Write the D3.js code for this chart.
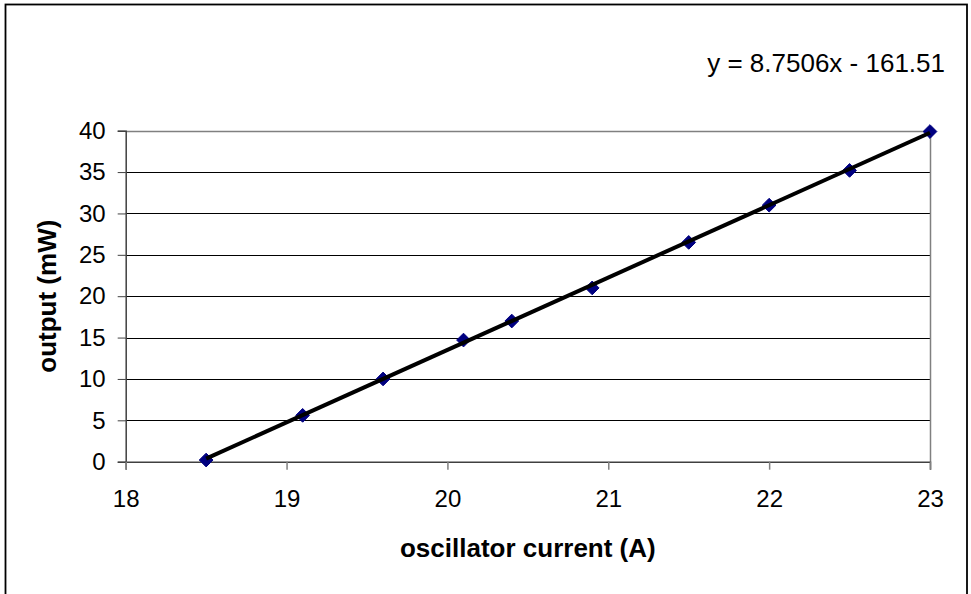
<!DOCTYPE html>
<html>
<head>
<meta charset="utf-8">
<script src="https://cdn.jsdelivr.net/npm/d3@7"></script>
<style>
  html, body { margin: 0; padding: 0; background: #fff; }
  svg { display: block; }
  text { font-family: "Liberation Sans", Arial, sans-serif; fill: #000; }
</style>
</head>
<body>
<svg id="chart" width="971" height="594"></svg>
<script>
// Data
const currentA = [18.5, 19.1, 19.6, 20.1, 20.4, 20.9, 21.5, 22.0, 22.5, 23.0];
const outputMW = [0.2, 5.6, 10.0, 14.7, 17.0, 21.0, 26.5, 31.0, 35.2, 39.9];
const xTicks = [18, 19, 20, 21, 22, 23];
const yTicks = [0, 5, 10, 15, 20, 25, 30, 35, 40];
const trendSlope = 8.7506;
const trendIntercept = -161.51;
const equationLabel = "y = 8.7506x - 161.51";
const xTitle = "oscillator current (A)";
const yTitle = "output (mW)";

const svg = d3.select("#chart");
const plot = { left: 125.7, right: 930, top: 130.7, bottom: 461.7 };

const x = d3.scaleLinear().domain([18, 23]).range([plot.left, plot.right]);
const y = d3.scaleLinear().domain([0, 40]).range([plot.bottom, plot.top]);

// Outer chart border
svg.append("rect")
  .attr("x", 5.5).attr("y", 4.5)
  .attr("width", 961.5).attr("height", 620)
  .attr("fill", "none").attr("stroke", "#000").attr("stroke-width", 1.8);

// Gridlines (internal)
svg.append("g").selectAll("line")
  .data(yTicks.filter(d => d > 0 && d < 40))
  .join("line")
  .attr("x1", plot.left).attr("x2", plot.right)
  .attr("y1", d => Math.round(y(d)) + 0.5).attr("y2", d => Math.round(y(d)) + 0.5)
  .attr("stroke", "#000").attr("stroke-width", 1);

// Plot border top/right (gray)
svg.append("path")
  .attr("d", `M${plot.left},${Math.round(plot.top)+0.5} H${Math.round(plot.right)+0.5} V${plot.bottom}`)
  .attr("fill", "none").attr("stroke", "#808080").attr("stroke-width", 1.5);

// Y axis
const yAxis = d3.axisLeft(y).tickValues(yTicks).tickSize(8).tickPadding(12).tickFormat(d3.format("d"));
const gy = svg.append("g").attr("transform", `translate(${plot.left},0)`).call(yAxis);
gy.select(".domain").attr("stroke", "#404040").attr("stroke-width", 1.5);
gy.selectAll(".tick line").attr("stroke", "#404040").attr("stroke-width", 1);
gy.selectAll(".tick text").attr("font-size", 24).attr("font-family", "Liberation Sans, Arial, sans-serif").attr("fill", "#000");

// X axis
const xAxis = d3.axisBottom(x).tickValues(xTicks).tickSize(8).tickPadding(20).tickFormat(d3.format("d"));
const gx = svg.append("g").attr("transform", `translate(0,${plot.bottom})`).call(xAxis);
gx.select(".domain").attr("stroke", "#404040").attr("stroke-width", 1.5);
gx.selectAll(".tick line").attr("stroke", "#808080").attr("stroke-width", 1.5);
gx.selectAll(".tick text").attr("font-size", 24).attr("font-family", "Liberation Sans, Arial, sans-serif").attr("fill", "#000");

// Markers (diamonds)
const diamond = d3.symbol().type(d3.symbolDiamond2).size(120);
svg.append("g").selectAll("path")
  .data(currentA.map((c, i) => [c, outputMW[i]]))
  .join("path")
  .attr("d", diamond)
  .attr("transform", d => `translate(${x(d[0])},${y(d[1])})`)
  .attr("fill", "#000080").attr("stroke", "#000080").attr("stroke-width", 1);

// Trendline
const tx0 = d3.min(currentA), tx1 = d3.max(currentA);
svg.append("line")
  .attr("x1", x(tx0)).attr("y1", y(trendSlope * tx0 + trendIntercept))
  .attr("x2", x(tx1)).attr("y2", y(trendSlope * tx1 + trendIntercept))
  .attr("stroke", "#000").attr("stroke-width", 4).attr("stroke-linecap", "butt");

// Equation
svg.append("text")
  .attr("x", 945).attr("y", 72)
  .attr("text-anchor", "end").attr("font-size", 26)
  .text(equationLabel);

// Axis titles
svg.append("text")
  .attr("x", (plot.left + plot.right) / 2).attr("y", 557)
  .attr("text-anchor", "middle").attr("font-size", 26).attr("font-weight", "bold")
  .text(xTitle);

svg.append("text")
  .attr("transform", `translate(56,${(plot.top + plot.bottom) / 2}) rotate(-90)`)
  .attr("text-anchor", "middle").attr("font-size", 26).attr("font-weight", "bold")
  .text(yTitle);
</script>
</body>
</html>
